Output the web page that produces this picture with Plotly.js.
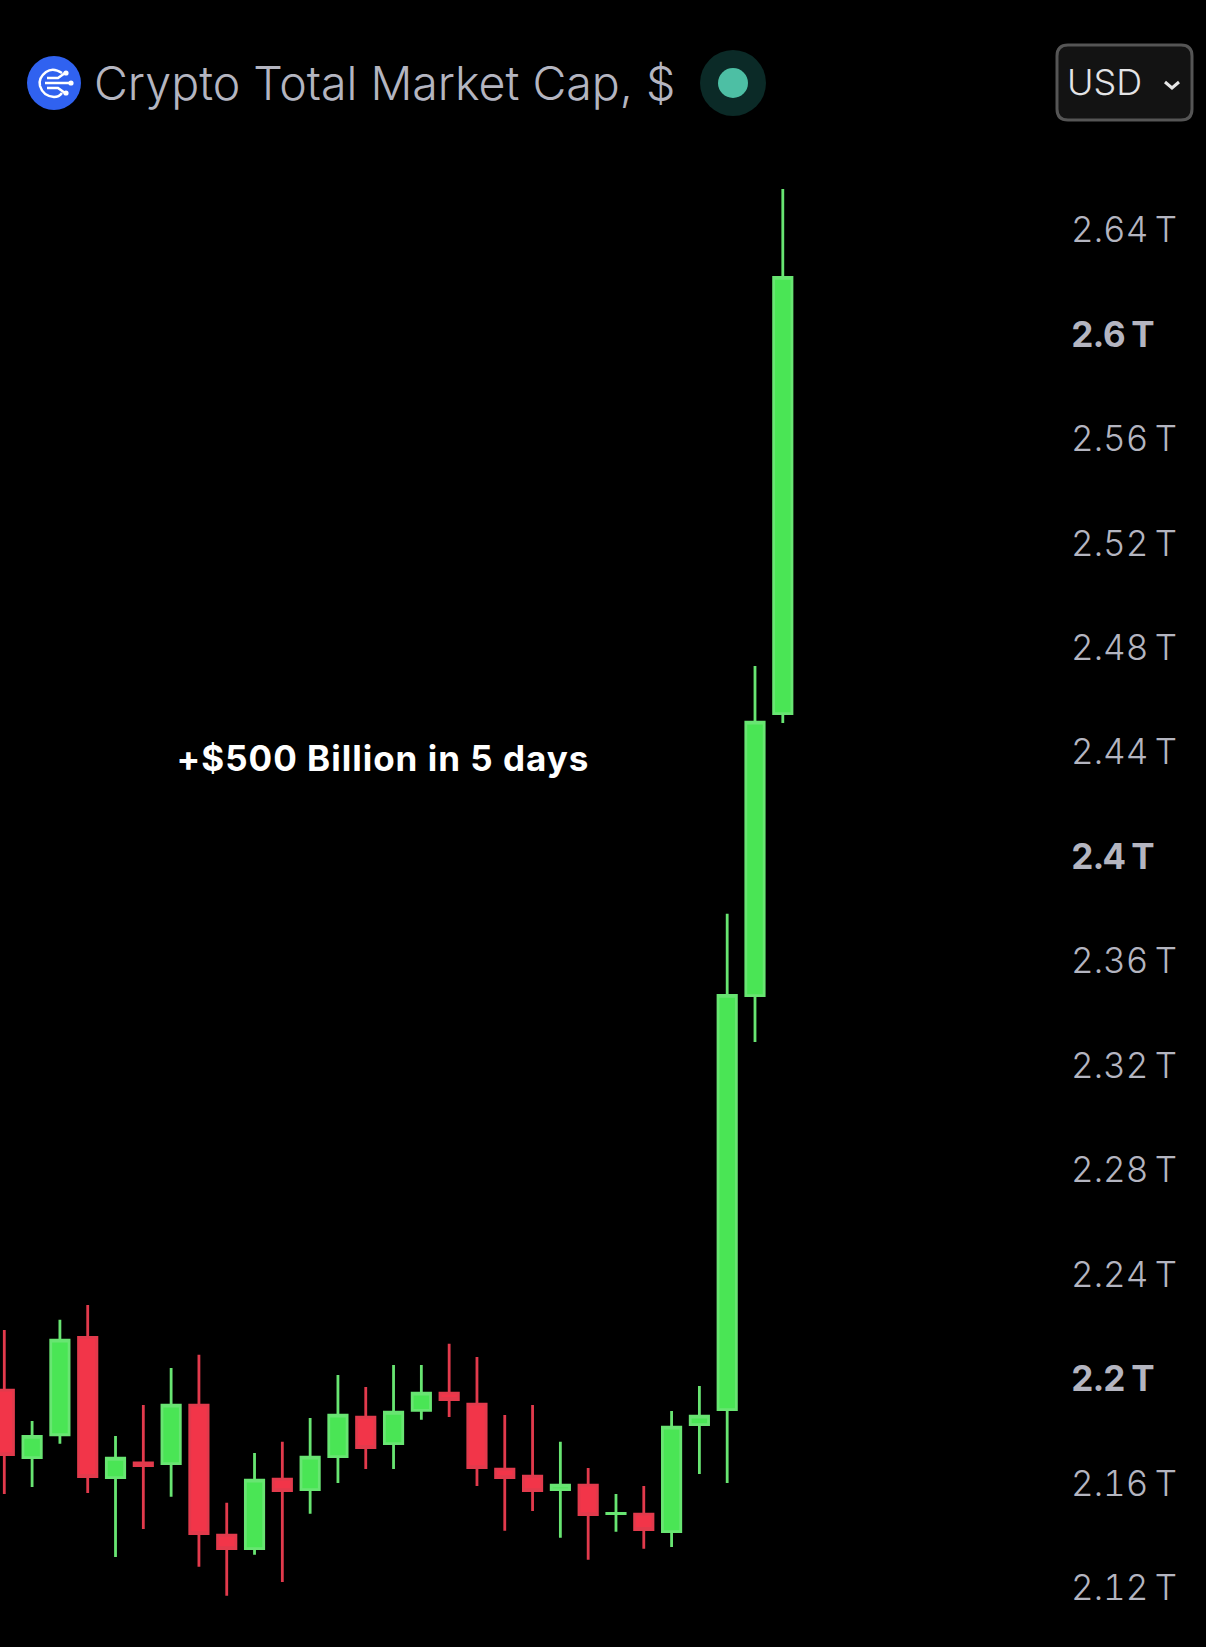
<!DOCTYPE html>
<html><head><meta charset="utf-8">
<script src="https://cdn.plot.ly/plotly-3.0.1.min.js"></script>
<style>html,body{margin:0;padding:0;background:#000;overflow:hidden}#c{width:1206px;height:1647px}
.ytick text{font-feature-settings:"tnum" 1;font-variant-numeric:tabular-nums}
.annotation[data-index="2"] text{letter-spacing:1px}
</style>
</head><body><div id="c"></div>
<script>
const days=[0,1,2,3,4,5,6,7,8,9,10,11,12,13,14,15,16,17,18,19,20,21,22,23,24,25,26,27,28];
const opens=[2.1957,2.1698,2.1786,2.2159,2.1622,2.1678,2.1675,2.1899,2.1401,2.1350,2.1616,2.1576,2.1702,2.1853,2.1752,2.1879,2.1945,2.1903,2.1654,2.1627,2.1576,2.1593,2.1484,2.1482,2.1415,2.1825,2.1882,2.3468,2.4548];
const closes=[2.1710,2.1780,2.2148,2.1626,2.1696,2.1668,2.1899,2.1407,2.1350,2.1612,2.1572,2.1700,2.1861,2.1737,2.1872,2.1945,2.1921,2.1660,2.1622,2.1572,2.1593,2.1480,2.1485,2.1423,2.1815,2.1857,2.3469,2.4515,2.6219];
const highs=[2.2187,2.1839,2.2226,2.2283,2.1781,2.1900,2.2042,2.2092,2.1525,2.1716,2.1759,2.1850,2.2015,2.1969,2.2053,2.2053,2.2134,2.2084,2.1862,2.1900,2.1759,2.1659,2.1559,2.1590,2.1877,2.1973,2.3781,2.4730,2.6557];
const lows=[2.1559,2.1586,2.1751,2.1563,2.1318,2.1425,2.1548,2.1280,2.1169,2.1326,2.1222,2.1483,2.1601,2.1655,2.1655,2.1843,2.1854,2.1590,2.1418,2.1494,2.1391,2.1307,2.1414,2.1349,2.1356,2.1636,2.1601,2.3290,2.4512];
const tickVals=[2.12,2.16,2.2,2.24,2.28,2.32,2.36,2.4,2.44,2.48,2.52,2.56,2.6,2.64];
const tickLabels=['2.12\u2009T','2.16\u2009T','<b>2.2\u2009T</b>','2.24\u2009T','2.28\u2009T','2.32\u2009T','2.36\u2009T','<b>2.4\u2009T</b>','2.44\u2009T','2.48\u2009T','2.52\u2009T','2.56\u2009T','<b>2.6\u2009T</b>','2.64\u2009T'];
const titleText='Crypto Total Market Cap, $';
const noteText='+$500 Billion in 5 days';
const currency='USD';

const W=1060,H=1647,FONT='Inter, "Noto Sans", sans-serif';
const px=x=>x/W, py=y=>1-y/H;
const P=(x,y)=>px(x)+','+py(y);
const circle=(cx,cy,rx,ry,fill)=>({type:'circle',xref:'paper',yref:'paper',x0:px(cx-rx),x1:px(cx+rx),y0:py(cy+ry),y1:py(cy-ry),fillcolor:fill,line:{width:0}});
const stroke=(d,w,col)=>({type:'path',xref:'paper',yref:'paper',path:d,line:{color:col||'#fff',width:w},fillcolor:'rgba(0,0,0,0)'});
const rr=(x0,y0,x1,y1,r)=>`M${P(x0+r,y0)}L${P(x1-r,y0)}Q${P(x1,y0)} ${P(x1,y0+r)}L${P(x1,y1-r)}Q${P(x1,y1)} ${P(x1-r,y1)}L${P(x0+r,y1)}Q${P(x0,y1)} ${P(x0,y1-r)}L${P(x0,y0+r)}Q${P(x0,y0)} ${P(x0+r,y0)}Z`;

const shapes=[
 circle(54,83,27,27,'#3062f0'),
 stroke(`M${P(62,73)}Q${P(53,67)} ${P(46,72)}Q${P(38,78)} ${P(40,86)}Q${P(43,96)} ${P(54,97)}Q${P(59,97)} ${P(62,93)}`,2.5),
 stroke(`M${P(45,83)}L${P(70,83)}`,2.5),
 stroke(`M${P(47,78)}L${P(58,78)}L${P(65,73)}`,2.5),
 stroke(`M${P(47,88)}L${P(58,88)}L${P(65,93)}`,2.5),
 circle(71,83,2.6,2.6,'#fff'), circle(66,73,2.6,2.6,'#fff'), circle(66,93,2.6,2.6,'#fff'),
 circle(733,83,33,33,'#0b2a27'),
 circle(733,83,15,15,'#4dbfa4'),
 {type:'path',xref:'paper',yref:'paper',path:rr(1057,45,1192,120,11),fillcolor:'#131313',line:{color:'#555555',width:3}},
 stroke(`M${P(1165,82)}L${P(1172,88)}L${P(1179,82)}`,3,'#e6e6e6')
];

const annotations=[
 {xref:'paper',yref:'paper',x:px(92),y:py(83),xanchor:'left',yanchor:'middle',showarrow:false,text:titleText,font:{family:FONT,size:46.5,weight:300,color:'#b4b5c0'}},
 {xref:'paper',yref:'paper',x:px(1065),y:py(82),xanchor:'left',yanchor:'middle',showarrow:false,text:currency,font:{family:FONT,size:36,weight:300,color:'#e4e4e6'}},
 {xref:'paper',yref:'paper',x:px(185.5),y:py(757.5),xanchor:'left',yanchor:'middle',showarrow:false,text:'<b>'+noteText+'</b>',font:{family:FONT,size:35,color:'#ffffff'}}
];

Plotly.newPlot('c',[{
  type:'candlestick',x:days,open:opens,high:highs,low:lows,close:closes,
  increasing:{line:{color:'#68e572',width:2.8},fillcolor:'#4ae555'},
  decreasing:{line:{color:'#e23a4c',width:2.8},fillcolor:'#f23549'},
  whiskerwidth:0,hoverinfo:'skip'
}],{
  width:1206,height:1647,showlegend:false,
  paper_bgcolor:'#000',plot_bgcolor:'#000',
  margin:{l:0,r:146,t:0,b:0,pad:0},
  boxgap:0.34,boxgroupgap:0,
  xaxis:{type:'linear',range:[-0.1547,37.97],visible:false,rangeslider:{visible:false},fixedrange:true},
  yaxis:{side:'right',range:[2.0973,2.7281],tickmode:'array',tickvals:tickVals,ticktext:tickLabels,
    showgrid:false,zeroline:false,showline:false,ticks:'outside',ticklen:3,tickcolor:'rgba(0,0,0,0)',automargin:false,
    tickfont:{family:FONT,size:35,weight:300,color:'#b4b5c0'},fixedrange:true},
  shapes:shapes,annotations:annotations
},{displayModeBar:false,staticPlot:true});
</script></body></html>
